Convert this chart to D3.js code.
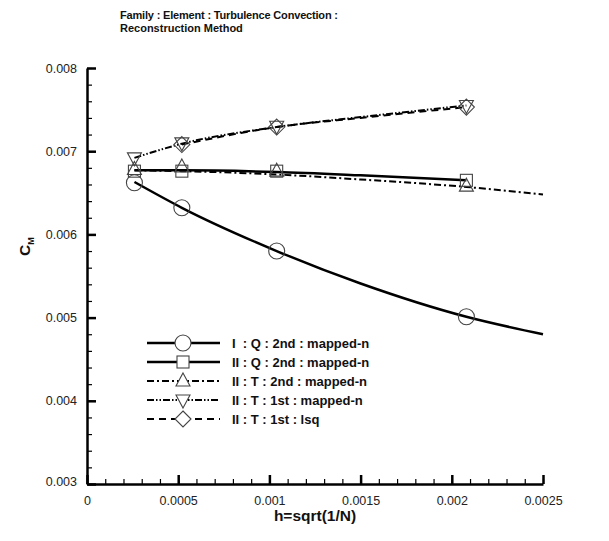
<!DOCTYPE html>
<html><head><meta charset="utf-8">
<script src="https://cdn.jsdelivr.net/npm/d3@7"></script>
<style>body{margin:0;background:#fff;}svg{display:block;font-family:"Liberation Sans",Arial,sans-serif;}</style>
</head><body>
<svg id="c" width="609" height="541"></svg>
<script>
// ---- data ----
const titleLines = ["Family : Element : Turbulence Convection :", "Reconstruction Method"];
const xTicks = [0, 0.0005, 0.001, 0.0015, 0.002, 0.0025];
const xTickLabels = ["0", "0.0005", "0.001", "0.0015", "0.002", "0.0025"];
const yTicks = [0.003, 0.004, 0.005, 0.006, 0.007, 0.008];
const yTickLabels = ["0.003", "0.004", "0.005", "0.006", "0.007", "0.008"];
const hVals = [0.00026, 0.00052, 0.00104, 0.00208];
const seriesNames = ["I  : Q : 2nd : mapped-n", "II : Q : 2nd : mapped-n", "II : T : 2nd : mapped-n", "II : T : 1st : mapped-n", "II : T : 1st : lsq"];
const cmIQ2 = [0.00662, 0.00632, 0.00580, 0.00501];
const cmIIQ2 = [0.00676, 0.00676, 0.00676, 0.00665];
const cmIIT2 = [0.00678, 0.00681, 0.00676, 0.00658];
const cmIIT1 = [0.00692, 0.00710, 0.00730, 0.00755];
const hLsq = [0.00052, 0.00104, 0.00208];
const cmIIT1lsq = [0.00708, 0.00729, 0.00753];
// fitted curves drawn through the points
const fitXIQ2 = [0.00026, 0.00052, 0.00104, 0.0015, 0.00208, 0.0025];
const fitYIQ2 = [0.00663, 0.00632, 0.00580, 0.00541, 0.00501, 0.00480];
const fitXIIQ2 = [0.00026, 0.00052, 0.00104, 0.0015, 0.00208];
const fitYIIQ2 = [0.00677, 0.00677, 0.00675, 0.00671, 0.00665];
const fitXIIT2 = [0.00026, 0.00052, 0.00104, 0.0015, 0.00208, 0.0025];
const fitYIIT2 = [0.00677, 0.00676, 0.00672, 0.00666, 0.00657, 0.00648];
const fitXIIT1 = [0.00026, 0.00052, 0.00104, 0.0015, 0.00208];
const fitYIIT1 = [0.00692, 0.00709, 0.00729, 0.00741, 0.00755];
const fitXLsq = [0.00052, 0.00104, 0.0015, 0.00208];
const fitYLsq = [0.00708, 0.00729, 0.00740, 0.00753];

const svg = d3.select("#c");
const x = d3.scaleLinear().domain([0, 0.0025]).range([87, 543]);
const y = d3.scaleLinear().domain([0.003, 0.008]).range([484, 68]);

// title
svg.append("g").selectAll("text").data(titleLines).join("text")
  .attr("x", 120).attr("y", (d, i) => 19 + i * 13)
  .attr("font-size", 11).attr("font-weight", "bold").attr("fill", "#111")
  .attr("textLength", (d, i) => i === 0 ? 218 : null)
  .text(d => d);

// axes with minor ticks
const xMinor = d3.range(0, 26).map(i => i * 0.0001);
const yMinor = d3.range(0, 26).map(i => 0.003 + i * 0.0002);
svg.append("g").attr("transform", "translate(0,484)")
  .call(d3.axisBottom(x).tickValues(xMinor).tickSize(-5).tickFormat(""))
  .call(g => g.select(".domain").remove())
  .selectAll("line").attr("stroke-width", 1.2);
svg.append("g").attr("transform", "translate(87,0)")
  .call(d3.axisLeft(y).tickValues(yMinor).tickSize(-5).tickFormat(""))
  .call(g => g.select(".domain").remove())
  .selectAll("line").attr("stroke-width", 1.2);
const xa = svg.append("g").attr("transform", "translate(0,484)")
  .call(d3.axisBottom(x).tickValues(xTicks).tickSize(-9).tickSizeOuter(0).tickPadding(12)
    .tickFormat((d, i) => xTickLabels[i]));
xa.select(".domain").attr("stroke-width", 2.5);
xa.selectAll("line").attr("stroke-width", 2.5);
xa.selectAll("text").attr("font-size", 12.5).attr("fill", "#222").attr("font-family", "Liberation Sans, Arial, sans-serif");
const ya = svg.append("g").attr("transform", "translate(87,0)")
  .call(d3.axisLeft(y).tickValues(yTicks).tickSize(-9).tickSizeOuter(0).tickPadding(10)
    .tickFormat((d, i) => yTickLabels[i]));
ya.select(".domain").attr("stroke-width", 2.5);
ya.selectAll("line").attr("stroke-width", 2.5);
ya.selectAll("text").attr("font-size", 12.5).attr("fill", "#222").attr("font-family", "Liberation Sans, Arial, sans-serif");
ya.selectAll(".tick").filter(d => d === 0.003).select("text").attr("dy", "0.1em");

// axis titles
svg.append("text").attr("x", 315).attr("y", 521).attr("text-anchor", "middle")
  .attr("font-size", 15.5).attr("font-weight", "bold").attr("fill", "#111").text("h=sqrt(1/N)");
const yt = svg.append("text").attr("transform", "translate(30,256) rotate(-90)")
  .attr("font-size", 15.5).attr("font-weight", "bold").attr("fill", "#111");
yt.append("tspan").text("C");
yt.append("tspan").attr("font-size", 9).attr("dy", 4).text("M");

// series
const dashes = [null, null, "7,3,2,3", "7,2,1.5,2,1.5,2", "7,5"];
const widths = [2.5, 2.5, 2, 2, 2];
const fits = [[fitXIQ2, fitYIQ2], [fitXIIQ2, fitYIIQ2], [fitXIIT2, fitYIIT2], [fitXIIT1, fitYIIT1], [fitXLsq, fitYLsq]];
const pts = [[hVals, cmIQ2], [hVals, cmIIQ2], [hVals, cmIIT2], [hVals, cmIIT1], [hLsq, cmIIT1lsq]];
const line = d3.line().x(d => x(d[0])).y(d => y(d[1])).curve(d3.curveMonotoneX);

function marker(g, k, cx, cy, fill) {
  const st = {stroke: "#444", "stroke-width": 1.1, fill: fill};
  let m;
  if (k === 0) m = g.append("circle").attr("cx", cx).attr("cy", cy).attr("r", 8);
  else if (k === 1) m = g.append("rect").attr("x", cx - 6).attr("y", cy - 6).attr("width", 12).attr("height", 12);
  else if (k === 2) m = g.append("path").attr("d", `M${cx},${cy - 8}L${cx + 7},${cy + 5}L${cx - 7},${cy + 5}Z`);
  else if (k === 3) m = g.append("path").attr("d", `M${cx},${cy + 8}L${cx + 7},${cy - 5}L${cx - 7},${cy - 5}Z`);
  else m = g.append("path").attr("d", `M${cx},${cy - 8}L${cx + 8},${cy}L${cx},${cy + 8}L${cx - 8},${cy}Z`);
  for (const k2 in st) m.attr(k2, st[k2]);
}

fits.forEach((f, k) => {
  const data = f[0].map((v, i) => [v, f[1][i]]);
  svg.append("path").datum(data).attr("d", line).attr("fill", "none")
    .attr("stroke", "#000").attr("stroke-width", widths[k])
    .attr("stroke-dasharray", dashes[k]);
});
pts.forEach((p, k) => {
  const g = svg.append("g");
  p[0].forEach((v, i) => marker(g, k, x(v), y(p[1][i]), "none"));
});

// legend
const lg = svg.append("g");
seriesNames.forEach((name, k) => {
  const ly = 343 + k * 19;
  lg.append("line").attr("x1", 147).attr("x2", 220).attr("y1", ly).attr("y2", ly)
    .attr("stroke", "#000").attr("stroke-width", widths[k]).attr("stroke-dasharray", dashes[k]);
  marker(lg, k, 183, ly, "#fff");
  lg.append("text").attr("x", 232).attr("y", ly + 5).attr("font-size", 13)
    .attr("font-weight", "bold").attr("fill", "#111").attr("xml:space", "preserve")
    .style("white-space", "pre").text(name);
});
</script>
</body></html>
